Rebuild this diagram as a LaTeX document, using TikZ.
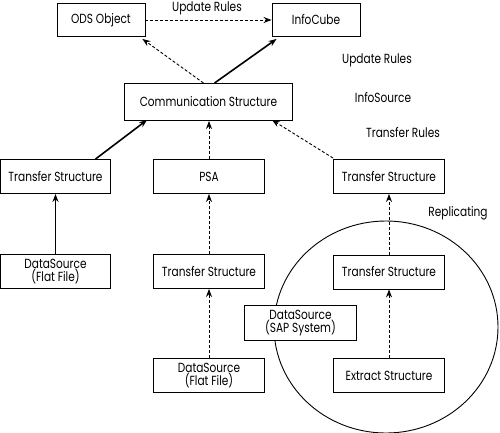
\documentclass[tikz,border=0pt]{standalone}
\usepackage{fontspec}
\setmainfont[FakeStretch=0.8]{Poppins}
\usetikzlibrary{arrows.meta}
\begin{document}
\begin{tikzpicture}[x=1pt,y=-1pt,
  box/.style={draw,line width=0.9pt,inner sep=0pt,minimum width=#1,minimum height=34pt,align=center,font=\fontsize{13.2}{13.5}\selectfont},
  box/.default=111pt,
  lbl/.style={font=\fontsize{13.2}{13.5}\selectfont,inner sep=0pt},
  dsh/.style={dash pattern=on 3pt off 2pt,line width=0.9pt,-{Stealth[length=8pt,width=6pt]}},
  sol/.style={line width=1.6pt,-{Stealth[length=8pt,width=6pt]}},
  thin/.style={line width=0.9pt,-{Stealth[length=8pt,width=6pt]}}]
\useasboundingbox (0,0) rectangle (500,432);
\node[box=88pt,minimum height=33pt] (ods) at (101,20) {ODS Object};
\node[box=88pt,minimum height=33pt] (cube) at (316,20) {InfoCube};
\node[box=168pt,minimum height=37pt] (comm) at (208.5,102) {Communication Structure};
\node[box=110pt] (tsl) at (55.5,176.5) {Transfer Structure};
\node[box] (psa) at (209,176.5) {PSA};
\node[box] (tsr) at (389,176.5) {Transfer Structure};
\node[box=110pt] (dsl) at (55.5,271.5) {DataSource\\(Flat File)};
\node[box] (tsm) at (209,271.5) {Transfer Structure};
\node[box] (tsc) at (389,272) {Transfer Structure};
\draw[line width=0.9pt] (386,327) ellipse [x radius=112, y radius=106];
\node[box=112pt,minimum height=35pt,fill=white] (sap) at (300.5,323) {DataSource\\(SAP System)};
\node[box] (dsm) at (209,375.5) {DataSource\\(Flat File)};
\node[box] (ext) at (389,375.5) {Extract Structure};
\node[lbl] (u1) at (207,8) {Update Rules};
\node[lbl] (u2) at (377,60) {Update Rules};
\node[lbl] (is) at (383,98) {InfoSource};
\node[lbl] (tr) at (403,133) {Transfer Rules};
\node[lbl] (rep) at (458,213) {Replicating};
\draw[dsh] (ods.east) -- (cube.west);
\draw[dsh] ([xshift=-5pt]comm.north) -- ([xshift=-3pt,yshift=-2pt]ods.south east);
\draw[sol] ([xshift=6pt]comm.north) -- ([xshift=5pt,yshift=-2pt]cube.south west);
\draw[sol] ([xshift=40pt]tsl.north) -- ([xshift=23pt,yshift=1pt]comm.south west);
\draw[dsh] (psa.north) -- (psa.north |- comm.south);
\draw[dsh] ([yshift=1pt]tsr.north west) -- ([xshift=-21pt,yshift=1pt]comm.south east);
\draw[thin] (dsl.north) -- (tsl.south);
\draw[dsh] (tsm.north) -- (psa.south);
\draw[dsh] (dsm.north) -- (tsm.south);
\draw[dsh] (tsc.north) -- (tsr.south);
\draw[dsh] (ext.north) -- (tsc.south);
\end{tikzpicture}
\end{document}
